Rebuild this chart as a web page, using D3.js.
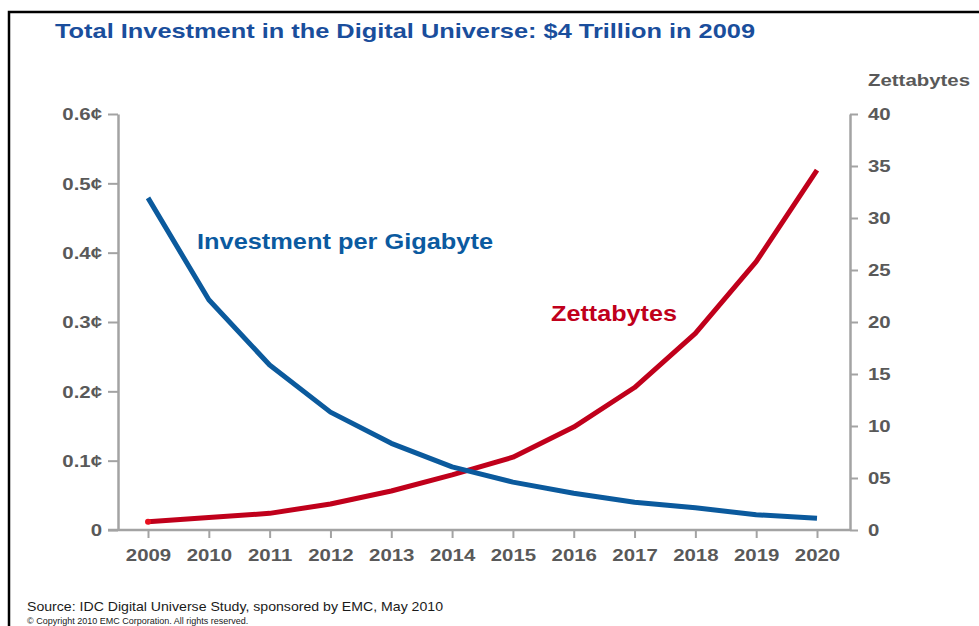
<!DOCTYPE html>
<html>
<head>
<meta charset="utf-8">
<script src="https://cdn.jsdelivr.net/npm/d3@7"></script>
<style>
  body { margin: 0; background: #fff; }
  svg { display: block; font-family: "Liberation Sans", Arial, sans-serif; }
</style>
</head>
<body>
<div class="vis"></div>
<script>
const years = [2009, 2010, 2011, 2012, 2013, 2014, 2015, 2016, 2017, 2018, 2019, 2020];
// cents per gigabyte
const investPerGB = [0.479, 0.332, 0.238, 0.170, 0.125, 0.091, 0.069, 0.053, 0.040, 0.032, 0.022, 0.017];
// zettabytes
const zettabytes = [0.8, 1.2, 1.6, 2.5, 3.75, 5.3, 7.0, 9.9, 13.7, 18.9, 25.8, 34.6];
const leftTicks = [0, 0.1, 0.2, 0.3, 0.4, 0.5, 0.6];
const rightTicks = [0, 5, 10, 15, 20, 25, 30, 35, 40];

const W = 979, H = 626;
const margin = {top: 114, right: 129, bottom: 96, left: 118};

const svg = d3.select('.vis')
    .append('svg')
    .attr('width', W)
    .attr('height', H);

// the source picture is a bit wider than tall, so stretch texts horizontally
function stretch(sel, k) {
    sel.each(function () {
        const w = this.getComputedTextLength();
        d3.select(this).attr('textLength', w * k).attr('lengthAdjust', 'spacingAndGlyphs');
    });
}

// frame
svg.append('rect')
    .attr('x', 9).attr('y', 12)
    .attr('width', W + 20).attr('height', H + 20)
    .attr('fill', 'none')
    .attr('stroke', '#000')
    .attr('stroke-width', 2.5);

svg.append('text')
    .attr('x', 55).attr('y', 38)
    .attr('fill', '#1a4e9c')
    .style('font-size', '21px')
    .style('font-weight', 'bold')
    .attr('textLength', 700)
    .attr('lengthAdjust', 'spacingAndGlyphs')
    .text('Total Investment in the Digital Universe:  $4 Trillion in 2009');

const x = d3.scalePoint()
    .domain(years)
    .range([148, 817]);
const yL = d3.scaleLinear().domain([0, 0.6]).range([H - margin.bottom, margin.top]);
const yR = d3.scaleLinear().domain([0, 40]).range([H - margin.bottom, margin.top]);

const axisColor = '#a3a3a3';
const labelColor = '#595959';

// x axis baseline + ticks
const gx = svg.append('g')
    .attr('transform', `translate(0,${H - margin.bottom})`)
    .call(d3.axisBottom(x).tickSize(8).tickPadding(11).tickSizeOuter(0));
gx.select('.domain').attr('d', `M108,0H850`);

// left axis
const gl = svg.append('g')
    .attr('transform', `translate(${margin.left},0)`)
    .call(d3.axisLeft(yL).tickValues(leftTicks).tickSize(10).tickPadding(6).tickSizeOuter(0)
        .tickFormat(d => d === 0 ? '0' : d3.format('.1f')(d) + '¢'));

// right axis
const gr = svg.append('g')
    .attr('transform', `translate(850,0)`)
    .call(d3.axisRight(yR).tickValues(rightTicks).tickSize(8).tickPadding(10).tickSizeOuter(0)
        .tickFormat(d => d === 0 ? '0' : d3.format('02d')(d)));

[gx, gl, gr].forEach(g => {
    g.selectAll('.domain').attr('stroke', axisColor).attr('stroke-width', 2.5);
    g.selectAll('.tick line').attr('stroke', axisColor).attr('stroke-width', 2);
    g.selectAll('.tick text')
        .attr('fill', labelColor)
        .style('font-size', '17px')
        .style('font-weight', 'bold')
        .style('font-family', '"Liberation Sans", Arial, sans-serif')
        .call(stretch, 1.2);
});
gl.selectAll('.tick text').attr('dy', '0.35em');
gr.selectAll('.tick text').attr('dy', '0.35em');

svg.append('text')
    .attr('x', 868).attr('y', 86)
    .attr('fill', labelColor)
    .style('font-size', '17px')
    .style('font-weight', 'bold')
    .text('Zettabytes')
    .call(stretch, 1.2);

// lines
const lineL = d3.line().x((d, i) => x(years[i])).y(d => yL(d));
const lineR = d3.line().x((d, i) => x(years[i])).y(d => yR(d));

svg.append('path')
    .datum(zettabytes)
    .attr('fill', 'none')
    .attr('stroke', '#c0001b')
    .attr('stroke-width', 5)
    .attr('stroke-linejoin', 'round')
    .attr('d', lineR);

svg.append('path')
    .datum(investPerGB)
    .attr('fill', 'none')
    .attr('stroke', '#0b5a9d')
    .attr('stroke-width', 5)
    .attr('stroke-linejoin', 'round')
    .attr('d', lineL);

svg.append('circle')
    .attr('cx', x(years[0])).attr('cy', yR(zettabytes[0]))
    .attr('r', 3).attr('fill', '#e8101e');

// series labels
svg.append('text')
    .attr('x', 197).attr('y', 249)
    .attr('fill', '#0b5aa0')
    .style('font-size', '22px')
    .style('font-weight', 'bold')
    .attr('textLength', 296)
    .attr('lengthAdjust', 'spacingAndGlyphs')
    .text('Investment per Gigabyte');

svg.append('text')
    .attr('x', 551).attr('y', 321)
    .attr('fill', '#c0001b')
    .style('font-size', '22px')
    .style('font-weight', 'bold')
    .attr('textLength', 126)
    .attr('lengthAdjust', 'spacingAndGlyphs')
    .text('Zettabytes');

// source notes
svg.append('text')
    .attr('x', 27).attr('y', 611)
    .attr('fill', '#1a1a1a')
    .style('font-size', '13px')
    .attr('textLength', 416)
    .attr('lengthAdjust', 'spacingAndGlyphs')
    .text('Source: IDC Digital Universe Study, sponsored by EMC, May 2010');

svg.append('text')
    .attr('x', 27).attr('y', 624)
    .attr('fill', '#1a1a1a')
    .style('font-size', '9px')
    .text('© Copyright 2010 EMC Corporation. All rights reserved.');
</script>
</body>
</html>
